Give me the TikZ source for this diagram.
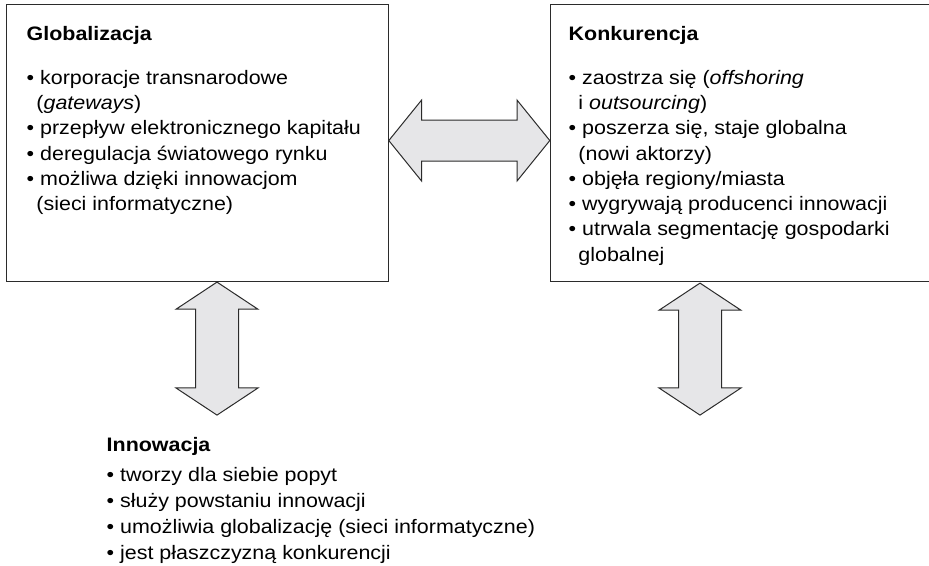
\documentclass[tikz,border=0pt]{standalone}
\usepackage{fontspec}
\setmainfont{Liberation Sans}[FakeStretch=1.1]
\usepackage{xcolor}
\usetikzlibrary{shapes.arrows,positioning,calc}
\definecolor{ramka}{HTML}{2B2B2B}
\definecolor{strzalka}{HTML}{E6E6E8}
\newcommand{\pkt}{\textbullet\ }
\newcommand{\dalej}{\hspace*{0.5em}}

\begin{document}
\begin{tikzpicture}[x=1pt, y=-1pt,
    pole/.style={draw=ramka, line width=1.1pt, inner sep=0pt, anchor=north west},
    opis/.style={align=left, inner sep=0pt, anchor=north west, font=\fontsize{19.5}{25.3}\selectfont},
    dwustronna/.style={double arrow, draw=ramka, fill=strzalka, line width=1pt, inner xsep=0pt}]
    \useasboundingbox (0,0) rectangle (929,565);

    \node[pole, minimum width=382, minimum height=277] (glob) at (6,4) {};
    \node[pole, minimum width=400, minimum height=277] (konk) at (549.5,4) {};

    \node[opis] (globtxt) at (26.5,26.5) {\textbf{Globalizacja}\\[18pt]
        \pkt korporacje transnarodowe\\
        \dalej(\textit{gateways})\\
        \pkt przepływ elektronicznego kapitału\\
        \pkt deregulacja światowego rynku\\
        \pkt możliwa dzięki innowacjom\\
        \dalej(sieci informatyczne)};
    \node[opis] (konktxt) at (568.5,26.5) {\textbf{Konkurencja}\\[18pt]
        \pkt zaostrza się (\textit{offshoring}\\
        \dalej i \textit{outsourcing})\\
        \pkt poszerza się, staje globalna\\
        \dalej(nowi aktorzy)\\
        \pkt objęła regiony/miasta\\
        \pkt wygrywają producenci innowacji\\
        \pkt utrwala segmentację gospodarki\\
        \dalej globalnej};
    \node[opis, font=\fontsize{19.5}{26}\selectfont] (inno) at (106.5,437.5) {\textbf{Innowacja}\\[4pt]
        \pkt tworzy dla siebie popyt\\
        \pkt służy powstaniu innowacji\\
        \pkt umożliwia globalizację (sieci informatyczne)\\
        \pkt jest płaszczyzną konkurencji};

    \node[dwustronna, inner ysep=20pt, double arrow head extend=20pt, minimum height=161, double arrow tip angle=102] (gk) at ($(glob.east)!0.5!(konk.west)+(0,-2.5)$) {};
    \node[dwustronna, rotate=90, inner ysep=21pt, double arrow head extend=19.5pt, minimum height=133, double arrow tip angle=113] (gi) at ($(glob.south west)+(211,66.5)$) {};
    \node[dwustronna, rotate=90, inner ysep=21pt, double arrow head extend=19.5pt, minimum height=132, double arrow tip angle=113] (kd) at ($(konk.south west)+(150.5,67)$) {};
\end{tikzpicture}
\end{document}
